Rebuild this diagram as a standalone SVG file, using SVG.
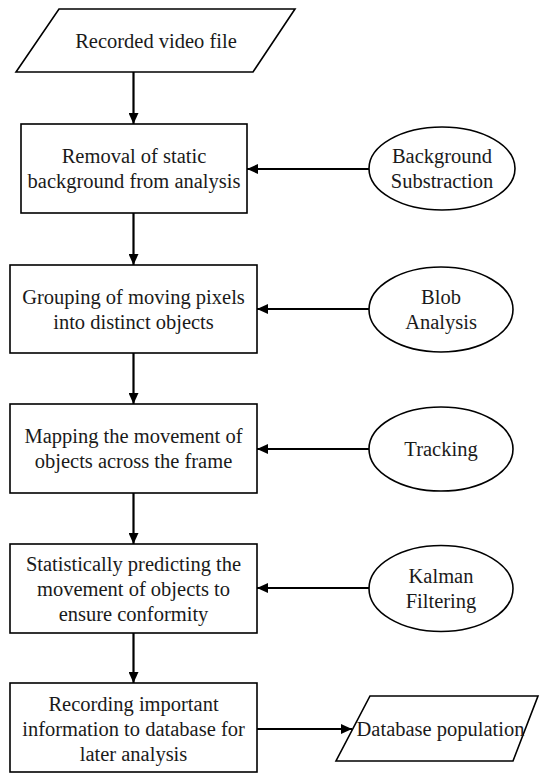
<svg xmlns="http://www.w3.org/2000/svg" width="540" height="774" viewBox="0 0 540 774">
<style>
.shape{fill:#fff;stroke:#000;stroke-width:1.6}
.t{font-family:"Liberation Serif","Times New Roman",serif;font-size:20.5px;fill:#1a1a1a;text-anchor:middle}
.edge{fill:none;stroke:#000;stroke-width:2.2}
</style>
<defs>
<marker id="arr" markerUnits="userSpaceOnUse" markerWidth="12" markerHeight="10" refX="11" refY="5" orient="auto">
<path d="M0,0 L11,5 L0,10 Z" fill="#000"/>
</marker>
</defs>
<rect width="540" height="774" fill="#fff"/>
<g id="connectors">
<line class="edge" x1="133.5" y1="72" x2="133.5" y2="124" marker-end="url(#arr)"/>
<line class="edge" x1="133.5" y1="213" x2="133.5" y2="265" marker-end="url(#arr)"/>
<line class="edge" x1="133.5" y1="353" x2="133.5" y2="404" marker-end="url(#arr)"/>
<line class="edge" x1="133.5" y1="493" x2="133.5" y2="544" marker-end="url(#arr)"/>
<line class="edge" x1="133.5" y1="633" x2="133.5" y2="683" marker-end="url(#arr)"/>
<line class="edge" x1="369" y1="169" x2="247" y2="169" marker-end="url(#arr)"/>
<line class="edge" x1="369" y1="309" x2="257" y2="309" marker-end="url(#arr)"/>
<line class="edge" x1="369" y1="449" x2="257" y2="449" marker-end="url(#arr)"/>
<line class="edge" x1="369" y1="588" x2="257" y2="588" marker-end="url(#arr)"/>
<line class="edge" x1="257" y1="729" x2="352" y2="729" marker-end="url(#arr)"/>
</g>
<g id="n-video">
<polygon class="shape" points="59,9 295,9 253,72 16,72"/>
<text class="t" x="156" y="48">Recorded video file</text>
</g>
<g id="n-removal">
<rect class="shape" x="21" y="124" width="226" height="89"/>
<text class="t" x="134" y="163">Removal of static</text>
<text class="t" x="134" y="188">background from analysis</text>
</g>
<g id="n-bgsub">
<ellipse class="shape" cx="442" cy="168.5" rx="73" ry="41.5"/>
<text class="t" x="442" y="163">Background</text>
<text class="t" x="442" y="188">Substraction</text>
</g>
<g id="n-grouping">
<rect class="shape" x="10" y="265" width="247" height="88"/>
<text class="t" x="133.5" y="303.5">Grouping of moving pixels</text>
<text class="t" x="133.5" y="328.5">into distinct objects</text>
</g>
<g id="n-blob">
<ellipse class="shape" cx="441" cy="309.5" rx="72" ry="42.5"/>
<text class="t" x="441" y="304">Blob</text>
<text class="t" x="441" y="329">Analysis</text>
</g>
<g id="n-mapping">
<rect class="shape" x="10" y="404" width="247" height="89"/>
<text class="t" x="133.5" y="443">Mapping the movement of</text>
<text class="t" x="133.5" y="468">objects across the frame</text>
</g>
<g id="n-tracking">
<ellipse class="shape" cx="441" cy="449" rx="72" ry="42"/>
<text class="t" x="441" y="456">Tracking</text>
</g>
<g id="n-statistically">
<rect class="shape" x="10" y="544" width="247" height="89"/>
<text class="t" x="133.5" y="571">Statistically predicting the</text>
<text class="t" x="133.5" y="596">movement of objects to</text>
<text class="t" x="133.5" y="621">ensure conformity</text>
</g>
<g id="n-kalman">
<ellipse class="shape" cx="441" cy="588.5" rx="72" ry="43"/>
<text class="t" x="441" y="583">Kalman</text>
<text class="t" x="441" y="608">Filtering</text>
</g>
<g id="n-recording">
<rect class="shape" x="10" y="683" width="247" height="89"/>
<text class="t" x="133.5" y="711">Recording important</text>
<text class="t" x="133.5" y="736">information to database for</text>
<text class="t" x="133.5" y="761">later analysis</text>
</g>
<g id="n-database">
<polygon class="shape" points="370,696 538,696 513,761 336,761"/>
<text class="t" x="440.5" y="735.5">Database population</text>
</g>
</svg>
